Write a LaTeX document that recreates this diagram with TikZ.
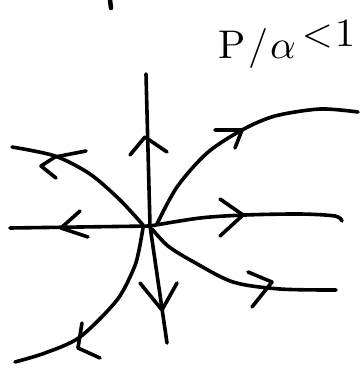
\documentclass[tikz,border=0pt]{standalone}
\begin{document}
\begin{tikzpicture}[x=1pt,y=-1pt,
  stroke/.style={line width=3.6pt,line cap=round,line join=round,black},
  chev/.style={stroke}]
\useasboundingbox (0,0) rectangle (363,368);
\coordinate (O) at (150,226);
% top mark
\draw[stroke,line width=4.5pt] (110,0) -- (111,8);
% label
\node[inner sep=0pt] (lbl) at (287,44) {\scalebox{4}{P\kern0.5pt/\kern0.5pt$\alpha$\kern1.5pt\raisebox{0.7ex}{$<$\kern0.5pt1}}};
% vertical axis
\draw[stroke] (146,74) -- (O) -- (167,343);
% horizontal axis
\draw[stroke] (10,228) -- (O) plot[smooth] coordinates {(O) (200,218) (245,215) (300,214) (335,216) (342,221)};
% upper-left curve
\draw[stroke] plot[smooth] coordinates {(12,147) (55,156) (90,174) (120,200) (143,225)};
% upper-right curve
\draw[stroke] plot[smooth] coordinates {(157,224) (177,187) (207,153) (242,130) (275,116) (320,109) (358,112)};
% lower-right curve
\draw[stroke] plot[smooth] coordinates {(152,229) (168,246) (192,261) (233,282) (280,289) (336,290)};
% lower-left curve
\draw[stroke] plot[smooth] coordinates {(143,228) (139,250) (134,268) (117,300) (80,337) (45,353) (15,362)};
% arrowheads
\draw[chev] (130,155) -- (145,137) -- (167,152);
\draw[chev] (140,283) -- (162,310) -- (177,283);
\draw[chev] (80,211) -- (61,228) -- (88,237);
\draw[chev] (220,199) -- (243,215) -- (220,236);
\draw[chev] (86,151) -- (55,157) -- (41,166) -- (56,178);
\draw[chev] (215,130) -- (242,130) -- (235,148);
\draw[chev] (248,272) -- (272,282) -- (252,307);
\draw[chev] (82,323) -- (78,348) -- (100,358);
\end{tikzpicture}
\end{document}
